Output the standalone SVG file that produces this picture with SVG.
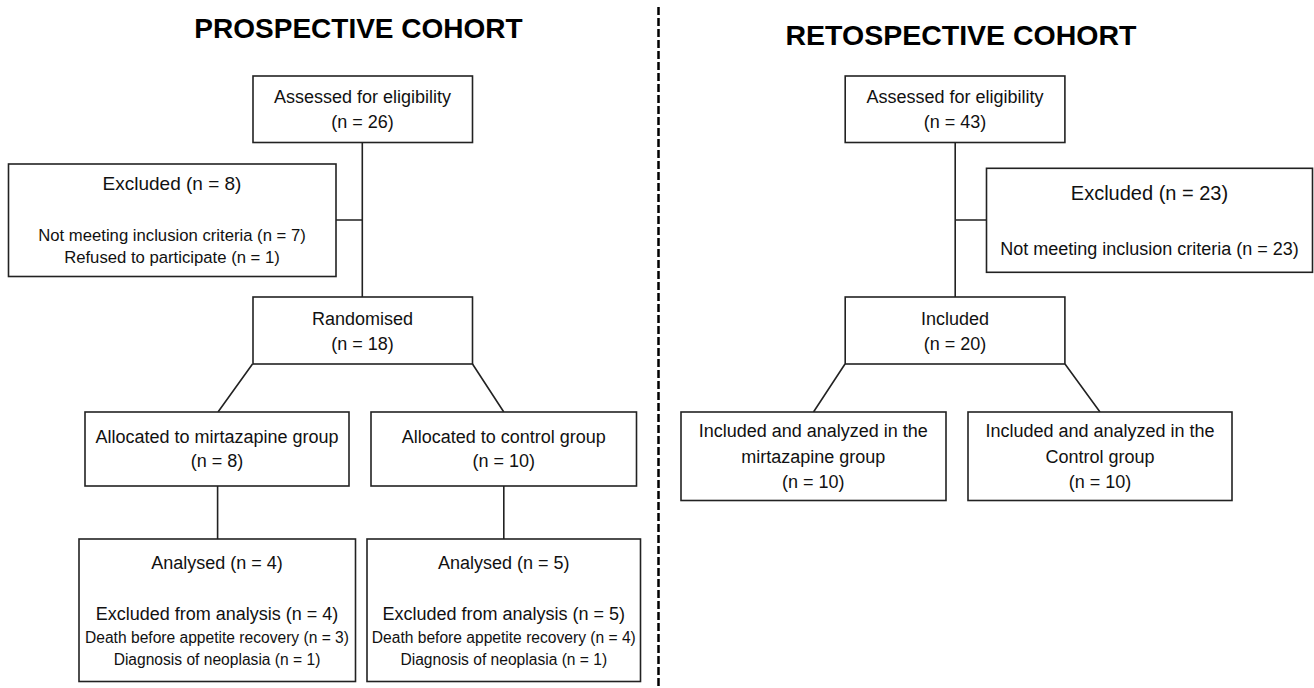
<svg xmlns="http://www.w3.org/2000/svg" width="1314" height="688" viewBox="0 0 1314 688">
<style>
.box{fill:#fff;stroke:#222;stroke-width:1.6}
.ln{stroke:#222;stroke-width:1.6;fill:none}
text{font-family:"Liberation Sans",Arial,sans-serif;fill:#111;text-anchor:middle}
.t{font-size:18px}
.s{font-size:16.7px}
.xs{font-size:15.6px}
.h{font-size:19px}
.h2{font-size:20px}
.title{font-weight:bold;fill:#000}
</style>
<rect width="1314" height="688" fill="#fff"/>
<text class="title" x="358.5" y="37.5" font-size="28">PROSPECTIVE COHORT</text>
<text class="title" x="961" y="44.5" font-size="28.5">RETOSPECTIVE COHORT</text>
<line x1="658.5" y1="7" x2="658.5" y2="688" stroke="#000" stroke-width="2.5" stroke-dasharray="8 3"/>
<g id="connectors">
<path class="ln" d="M362.3 142.5V297M336 220H362.3M252.5 364L218 412M472.5 364L503.8 412M217.6 486V539M503.8 486V539"/>
<path class="ln" d="M955.2 142.5V297M955.2 220H986.5M845 364L813.5 412M1065 364L1100 412"/>
</g>
<g id="p-assessed"><rect class="box" x="253" y="76" width="219.5" height="66.5"/><text class="t" x="362.5" y="103">Assessed for eligibility</text><text class="t" x="362.5" y="128">(n = 26)</text></g>
<g id="p-excluded"><rect class="box" x="8.5" y="164" width="327.5" height="112.5"/><text class="h" x="172" y="190">Excluded (n = 8)</text><text class="s" x="172" y="241">Not meeting inclusion criteria (n = 7)</text><text class="s" x="172" y="263">Refused to participate (n = 1)</text></g>
<g id="p-randomised"><rect class="box" x="253" y="297" width="219.5" height="67"/><text class="t" x="362.5" y="324.5">Randomised</text><text class="t" x="362.5" y="349.5">(n = 18)</text></g>
<g id="p-alloc-mirt"><rect class="box" x="85" y="412" width="264" height="74"/><text class="t" x="217" y="442.5">Allocated to mirtazapine group</text><text class="t" x="217" y="467">(n = 8)</text></g>
<g id="p-alloc-ctrl"><rect class="box" x="371" y="412" width="265.5" height="74"/><text class="t" x="503.7" y="442.5">Allocated to control group</text><text class="t" x="503.7" y="467">(n = 10)</text></g>
<g id="p-analysed-mirt"><rect class="box" x="79" y="539" width="276.5" height="142.5"/><text class="t" x="217" y="568.5">Analysed (n = 4)</text><text class="t" x="217" y="619.5">Excluded from analysis (n = 4)</text><text class="xs" x="217" y="643">Death before appetite recovery (n = 3)</text><text class="xs" x="217" y="665">Diagnosis of neoplasia (n = 1)</text></g>
<g id="p-analysed-ctrl"><rect class="box" x="367" y="539" width="273.5" height="142.5"/><text class="t" x="503.8" y="568.5">Analysed (n = 5)</text><text class="t" x="503.8" y="619.5">Excluded from analysis (n = 5)</text><text class="xs" x="503.8" y="643">Death before appetite recovery (n = 4)</text><text class="xs" x="503.8" y="665">Diagnosis of neoplasia (n = 1)</text></g>
<g id="r-assessed"><rect class="box" x="845.2" y="76" width="219.7" height="66.5"/><text class="t" x="955" y="103">Assessed for eligibility</text><text class="t" x="955" y="128">(n = 43)</text></g>
<g id="r-excluded"><rect class="box" x="986.5" y="168.3" width="326" height="104"/><text class="h2" x="1149.5" y="200">Excluded (n = 23)</text><text class="t" x="1149.5" y="255">Not meeting inclusion criteria (n = 23)</text></g>
<g id="r-included"><rect class="box" x="845.2" y="297" width="219.7" height="67"/><text class="t" x="955" y="324.5">Included</text><text class="t" x="955" y="349.5">(n = 20)</text></g>
<g id="r-mirt"><rect class="box" x="681" y="412" width="265" height="88.5"/><text class="t" x="813.3" y="437">Included and analyzed in the</text><text class="t" x="813.3" y="462.5">mirtazapine group</text><text class="t" x="813.3" y="488">(n = 10)</text></g>
<g id="r-ctrl"><rect class="box" x="968" y="412" width="264" height="88.5"/><text class="t" x="1100" y="437">Included and analyzed in the</text><text class="t" x="1100" y="462.5">Control group</text><text class="t" x="1100" y="488">(n = 10)</text></g>
</svg>
